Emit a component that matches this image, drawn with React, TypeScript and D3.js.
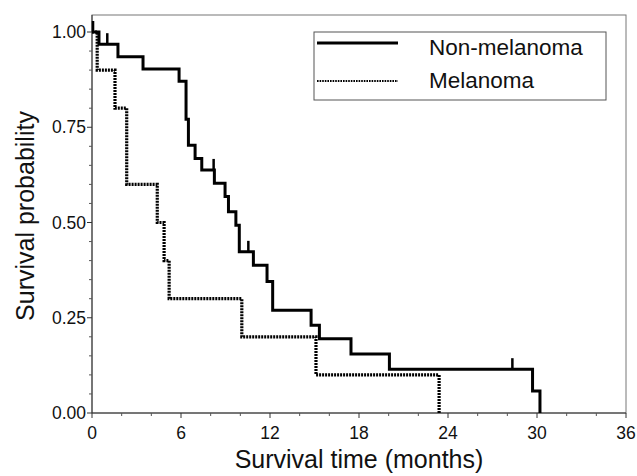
import React from 'react';
import * as d3 from 'd3';

// Kaplan-Meier steps (time in months, survival after the drop)
const nonMelTimes = [0.47, 1.75, 3.44, 5.87, 6.34, 6.5, 6.95, 7.4, 8.25, 8.97, 9.2, 9.7, 9.93, 10.88, 11.8, 12.18, 14.77, 15.33, 17.46, 20.05, 29.7, 30.2];
const nonMelSurv = [0.968, 0.935, 0.903, 0.871, 0.771, 0.703, 0.668, 0.638, 0.603, 0.568, 0.528, 0.493, 0.423, 0.388, 0.345, 0.27, 0.23, 0.195, 0.155, 0.115, 0.058, 0];
const nonMelCensorTimes = [0.07, 1.03, 8.2, 10.54, 28.34];

const melTimes = [0.35, 1.55, 2.34, 4.4, 4.86, 5.2, 10.1, 15.1, 23.4];
const melSurv = [0.9, 0.8, 0.6, 0.5, 0.4, 0.3, 0.2, 0.1, 0];

const xTicks = [0, 6, 12, 18, 24, 30, 36];
const yTicks = [0, 0.25, 0.5, 0.75, 1];

const seriesNames = ['Non-melanoma', 'Melanoma'];

const W = 637;
const H = 476;
const margin = { top: 15, right: 11, bottom: 63, left: 92 };
const FONT = '"Liberation Sans", Arial, Helvetica, sans-serif';

// survival level at time t (right-continuous step function)
const survAt = (times: number[], surv: number[], t: number) => {
  let s = 1;
  times.forEach((tt, i) => {
    if (tt <= t) s = surv[i];
  });
  return s;
};

const App = () => {
  const x = d3.scaleLinear().domain([0, 36]).range([margin.left, W - margin.right]);
  const y = d3.scaleLinear().domain([0, 1]).range([H - margin.bottom, 32]);
  const plotTop = margin.top;
  const plotBottom = H - margin.bottom;

  const stepPath = (times: number[], surv: number[]) => {
    const pts: [number, number][] = [[0, 1]];
    times.forEach((t, i) => {
      pts.push([t, pts[pts.length - 1][1]]);
      pts.push([t, surv[i]]);
    });
    return d3.line()(pts.map(([t, s]) => [x(t), y(s)] as [number, number])) || '';
  };

  const xMinor = d3.range(0, 37, 2).filter(v => v % 6 !== 0);
  const yMinor = d3.range(0, 21).map(i => i * 0.05).filter((v, i) => i % 5 !== 0);

  return (
    <svg width={W} height={H} style={{ position: 'absolute', left: 0, top: 0, background: '#fff' }} fontFamily={FONT}>
      {/* frame */}
      <rect x={x(0)} y={plotTop} width={x(36) - x(0)} height={plotBottom - plotTop} fill="none" stroke="#777" strokeWidth={1} />
      <line x1={x(0)} x2={x(0)} y1={plotTop} y2={plotBottom} stroke="#333" strokeWidth={1} />
      <line x1={x(0)} x2={x(36)} y1={plotBottom} y2={plotBottom} stroke="#333" strokeWidth={1} />

      {/* y ticks */}
      {yTicks.map(v => (
        <g key={'y' + v}>
          <line x1={x(0) - 5} x2={x(0)} y1={y(v)} y2={y(v)} stroke="#333" />
          <text x={x(0) - 6} y={y(v)} dy="0.35em" textAnchor="end" fontSize={17.5} fill="#111">{d3.format('.2f')(v)}</text>
        </g>
      ))}
      {yMinor.map(v => (
        <line key={'ym' + v} x1={x(0) - 3} x2={x(0)} y1={y(v)} y2={y(v)} stroke="#555" />
      ))}

      {/* x ticks */}
      {xTicks.map(v => (
        <g key={'x' + v}>
          <line x1={x(v)} x2={x(v)} y1={plotBottom} y2={plotBottom + 5} stroke="#333" />
          <text x={x(v)} y={plotBottom + 26} textAnchor="middle" fontSize={17.5} fill="#111">{v}</text>
        </g>
      ))}
      {xMinor.map(v => (
        <line key={'xm' + v} x1={x(v)} x2={x(v)} y1={plotBottom} y2={plotBottom + 3} stroke="#555" />
      ))}

      {/* axis titles */}
      <text x={(x(0) + x(36)) / 2} y={H - 8} textAnchor="middle" fontSize={25} fill="#111">Survival time (months)</text>
      <text transform={`translate(34, ${(plotTop + plotBottom) / 2 + 2}) rotate(-90)`} textAnchor="middle" fontSize={25} fill="#111">Survival probability</text>

      {/* curves */}
      <path d={stepPath(melTimes, melSurv)} fill="none" stroke="#000" strokeWidth={3.2} strokeDasharray="2 1" />
      <path d={stepPath(nonMelTimes, nonMelSurv)} fill="none" stroke="#000" strokeWidth={3} strokeLinejoin="miter" />
      {nonMelCensorTimes.map(t => {
        const s = survAt(nonMelTimes, nonMelSurv, t);
        return <line key={'c' + t} x1={x(t)} x2={x(t)} y1={y(s)} y2={y(s) - 11} stroke="#000" strokeWidth={2.5} />;
      })}

      {/* legend */}
      <g>
        <rect x={314} y={32} width={292} height={68} fill="#fff" stroke="#555" strokeWidth={1} />
        <line x1={317} x2={398} y1={43} y2={43} stroke="#000" strokeWidth={3} />
        <text x={429} y={55} fontSize={22.5} fill="#111">{seriesNames[0]}</text>
        <line x1={317} x2={398} y1={81} y2={81} stroke="#000" strokeWidth={2} strokeDasharray="1.6 1" />
        <text x={429} y={88} fontSize={22.5} fill="#111">{seriesNames[1]}</text>
      </g>
    </svg>
  );
};

export default App;
